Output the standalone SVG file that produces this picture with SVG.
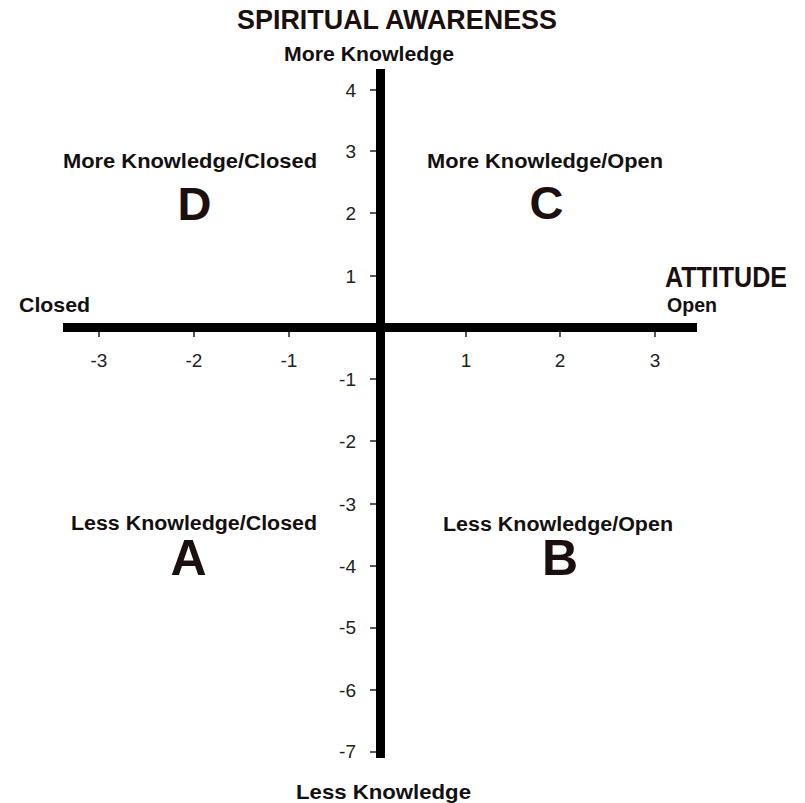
<svg xmlns="http://www.w3.org/2000/svg" width="805" height="803" viewBox="0 0 805 803">
<style>
.b{font-family:"Liberation Sans",Arial,sans-serif;font-weight:bold;fill:#141010}
.h{font-family:"Liberation Sans",Arial,sans-serif;font-weight:bold;fill:#1c0f0f}
.t{font-family:"Liberation Sans",Arial,sans-serif;font-size:19px;fill:#222}
.ax{stroke:#000;stroke-width:9;fill:none}
.tk{stroke:#222;stroke-width:1.5;fill:none}
</style>
<rect width="805" height="803" fill="#fff"/>
<g id="titles">
<text class="h" x="237" y="29" font-size="28" textLength="320" lengthAdjust="spacingAndGlyphs">SPIRITUAL AWARENESS</text>
<text class="b" x="284" y="61" font-size="20.5" textLength="170" lengthAdjust="spacingAndGlyphs">More Knowledge</text>
<text class="b" x="296" y="799" font-size="20.5" textLength="175" lengthAdjust="spacingAndGlyphs">Less Knowledge</text>
<text class="b" x="19" y="312" font-size="20.5" textLength="71" lengthAdjust="spacingAndGlyphs">Closed</text>
<text class="h" x="665" y="287" font-size="29" textLength="122" lengthAdjust="spacingAndGlyphs">ATTITUDE</text>
<text class="b" x="667" y="312" font-size="20.5" textLength="50" lengthAdjust="spacingAndGlyphs">Open</text>
</g>
<g id="axes">
<line class="ax" x1="63" y1="327.5" x2="697" y2="327.5"/>
<line class="ax" x1="380.5" y1="69" x2="380.5" y2="758"/>
<g class="tk">
<line x1="99" y1="332" x2="99" y2="337"/>
<line x1="194" y1="332" x2="194" y2="337"/>
<line x1="289" y1="332" x2="289" y2="337"/>
<line x1="466" y1="332" x2="466" y2="337"/>
<line x1="560" y1="332" x2="560" y2="337"/>
<line x1="655" y1="332" x2="655" y2="337"/>
<line x1="370" y1="90" x2="376" y2="90"/>
<line x1="370" y1="151" x2="376" y2="151"/>
<line x1="370" y1="213" x2="376" y2="213"/>
<line x1="370" y1="276" x2="376" y2="276"/>
<line x1="370" y1="379" x2="376" y2="379"/>
<line x1="370" y1="441" x2="376" y2="441"/>
<line x1="370" y1="504" x2="376" y2="504"/>
<line x1="370" y1="566" x2="376" y2="566"/>
<line x1="370" y1="628" x2="376" y2="628"/>
<line x1="370" y1="690" x2="376" y2="690"/>
<line x1="370" y1="752" x2="376" y2="752"/>
</g>
</g>
<g id="xlabels" class="t" text-anchor="middle">
<text x="99" y="367">-3</text>
<text x="194" y="367">-2</text>
<text x="289" y="367">-1</text>
<text x="466" y="367">1</text>
<text x="560" y="367">2</text>
<text x="655" y="367">3</text>
</g>
<g id="ylabels" class="t" text-anchor="end">
<text x="356" y="97">4</text>
<text x="356" y="158">3</text>
<text x="356" y="220">2</text>
<text x="356" y="283">1</text>
<text x="356" y="386">-1</text>
<text x="356" y="448">-2</text>
<text x="356" y="511">-3</text>
<text x="356" y="573">-4</text>
<text x="356" y="634">-5</text>
<text x="356" y="697">-6</text>
<text x="356" y="758">-7</text>
</g>
<g id="quadD">
<text class="b" x="63" y="168" font-size="20" textLength="254" lengthAdjust="spacingAndGlyphs">More Knowledge/Closed</text>
<text class="h" x="194.5" y="220" font-size="47" text-anchor="middle">D</text>
</g>
<g id="quadC">
<text class="b" x="427" y="168" font-size="20" textLength="236" lengthAdjust="spacingAndGlyphs">More Knowledge/Open</text>
<text class="h" x="546.5" y="219" font-size="47" text-anchor="middle">C</text>
</g>
<g id="quadA">
<text class="b" x="71" y="530" font-size="20" textLength="246" lengthAdjust="spacingAndGlyphs">Less Knowledge/Closed</text>
<text class="h" x="188.5" y="575" font-size="50" text-anchor="middle">A</text>
</g>
<g id="quadB">
<text class="b" x="443" y="531" font-size="20" textLength="230" lengthAdjust="spacingAndGlyphs">Less Knowledge/Open</text>
<text class="h" x="560" y="575" font-size="50" text-anchor="middle">B</text>
</g>
</svg>
